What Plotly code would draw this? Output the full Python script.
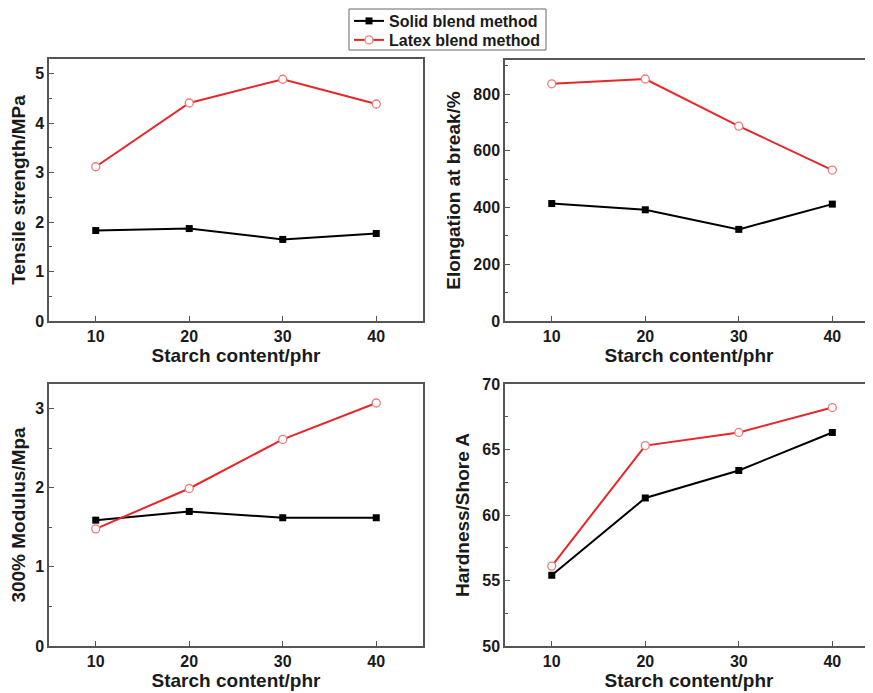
import plotly.graph_objects as go

starch = [10, 20, 30, 40]
tensile_solid = [1.83, 1.87, 1.65, 1.77]
tensile_latex = [3.12, 4.41, 4.89, 4.39]
elong_solid = [414, 392, 323, 412]
elong_latex = [836, 853, 687, 532]
modulus_solid = [1.59, 1.70, 1.62, 1.62]
modulus_latex = [1.48, 1.99, 2.61, 3.07]
hard_solid = [55.4, 61.3, 63.4, 66.3]
hard_latex = [56.1, 65.3, 66.3, 68.2]

# page body has an 8px margin; the figure is sized to fill the rest of the window
OFF = 8
W, H = 873 - OFF, 693 - OFF
FONT = "Liberation Sans, Arial, sans-serif"
TXT = "#1a1a1a"
AX = "#555555"
RED = "#e8262a"

fig = go.Figure()

panels = [
    ("x", "y", tensile_solid, tensile_latex),
    ("x2", "y2", elong_solid, elong_latex),
    ("x3", "y3", modulus_solid, modulus_latex),
    ("x4", "y4", hard_solid, hard_latex),
]
for i, (xa, ya, s, l) in enumerate(panels):
    fig.add_trace(go.Scatter(
        x=starch, y=s, xaxis=xa, yaxis=ya, mode="lines+markers",
        name="Solid blend method", showlegend=(i == 0), legend="legend",
        line=dict(color="black", width=2),
        marker=dict(symbol="square", size=7, color="black"),
    ))
    fig.add_trace(go.Scatter(
        x=starch, y=l, xaxis=xa, yaxis=ya, mode="lines+markers",
        name="Latex blend method", showlegend=(i == 0), legend="legend2",
        line=dict(color=RED, width=2),
        marker=dict(symbol="circle", size=8, color="white",
                    line=dict(color="#f07a7a", width=1.3)),
    ))


def px_x(a, b):
    return [(a - OFF) / W, min((b - OFF) / W, 1.0)]


def px_y(top, bottom):
    return [1 - (bottom - OFF) / H, 1 - (top - OFF) / H]


def xaxis(dom, anchor, rng):
    return dict(
        domain=dom, anchor=anchor, range=rng, tickvals=starch, automargin=False,
        ticks="inside", ticklen=5, tickwidth=1.3, tickcolor=AX,
        showline=True, linecolor=AX, linewidth=1.5, mirror=True,
        showgrid=False, zeroline=False,
        tickfont=dict(family=FONT, size=16, color=TXT, weight="bold"),
        title=dict(text="Starch content/phr", standoff=4,
                   font=dict(family=FONT, size=19, color=TXT, weight="bold")),
    )


def yaxis(dom, anchor, rng, dtick, minor, title, mirror, standoff, t0=0):
    return dict(
        domain=dom, anchor=anchor, range=rng, dtick=dtick, tick0=t0, automargin=False,
        ticks="inside", ticklen=5, tickwidth=1.3, tickcolor=AX,
        minor=dict(ticks="inside", ticklen=3, dtick=minor, tick0=t0, tickcolor=AX, tickwidth=1.2),
        showline=True, linecolor=AX, linewidth=1.5, mirror=mirror,
        showgrid=False, zeroline=False,
        tickfont=dict(family=FONT, size=16, color=TXT, weight="bold"),
        title=dict(text=title, standoff=standoff,
                   font=dict(family=FONT, size=19, color=TXT, weight="bold")),
    )


def legend_at(top_px):
    return dict(
        x=(349 - OFF) / W, y=1 - (top_px - OFF) / H, xanchor="left", yanchor="top",
        bgcolor="rgba(0,0,0,0)", borderwidth=0,
        font=dict(family=FONT, size=16, color=TXT, weight="bold"),
        itemwidth=30,
    )


fig.update_layout(
    width=W, height=H, margin=dict(l=0, r=0, t=0, b=0, autoexpand=False),
    paper_bgcolor="white", plot_bgcolor="white",
    xaxis=xaxis(px_x(49, 423), "y", [5, 45]),
    yaxis=yaxis(px_y(59, 321), "x", [0, 5.3], 1, 0.5, "Tensile strength/MPa", True, 8),
    xaxis2=xaxis(px_x(505, 873), "y2", [5, 44.35]),
    yaxis2=yaxis(px_y(60, 321), "x2", [0, 920], 200, 100, "Elongation at break/%", False, 8),
    xaxis3=xaxis(px_x(49, 423), "y3", [5, 45]),
    yaxis3=yaxis(px_y(384, 646), "x3", [0, 3.31], 1, 0.5, "300% Modulus/Mpa", True, 8),
    xaxis4=xaxis(px_x(505, 873), "y4", [5, 44.35]),
    yaxis4=yaxis(px_y(384, 646), "x4", [50, 70], 5, 2.5, "Hardness/Shore A", False, 8, 50),
    legend=legend_at(4),
    legend2=legend_at(23),
    shapes=[dict(
        type="rect", xref="paper", yref="paper", layer="above",
        x0=(349 - OFF) / W, x1=(546 - OFF) / W,
        y0=1 - (50 - OFF) / H, y1=1 - (9 - OFF) / H,
        line=dict(color="#666666", width=1), fillcolor="rgba(0,0,0,0)",
    )],
)

fig.write_html("out.html")
